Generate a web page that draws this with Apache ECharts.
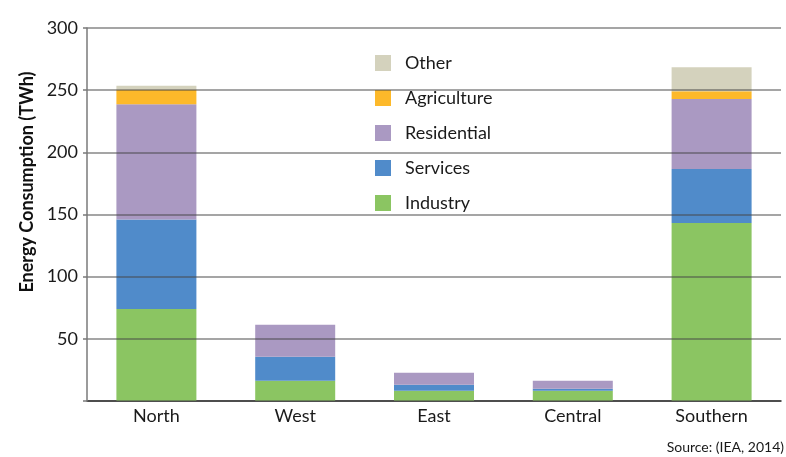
<!DOCTYPE html>
<html>
<head>
<meta charset="utf-8">
<script src="https://cdn.jsdelivr.net/npm/echarts@6/dist/echarts.min.js"></script>
<style>
  html, body { margin: 0; padding: 0; background: #ffffff; }
  #chart { width: 786px; height: 457px; }
</style>
</head>
<body>
<div id="chart"></div>
<script>
// Electricity consumption by region and sector (TWh)
const regions = ['North', 'West', 'East', 'Central', 'Southern'];
const industry    = [74, 16.3, 8.3, 8.3, 143.2];
const services    = [72, 19.3, 4.8, 1.6, 43.3];
const residential = [92.6, 25.7, 9.6, 6.4, 56.3];
const agriculture = [11.8, 0, 0, 0, 6.4];
const other       = [3.2, 0, 0, 0, 19.3];
const yTicks = { min: 0, max: 300, step: 50 };

const sectors = [
  { name: 'Industry', data: industry, color: '#8bc562' },
  { name: 'Services', data: services, color: '#508bca' },
  { name: 'Residential', data: residential, color: '#aa99c2' },
  { name: 'Agriculture', data: agriculture, color: '#fdb92a' },
  { name: 'Other', data: other, color: '#d4d2bd' }
];

const font = 'Lato, "Open Sans", sans-serif';
const chart = echarts.init(document.getElementById('chart'), null, { renderer: 'canvas' });

chart.setOption({
  animation: false,
  textStyle: { fontFamily: font },
  grid: { left: 87, right: 5, top: 28, bottom: 56 },
  legend: {
    orient: 'vertical',
    left: 375,
    top: 54,
    padding: 0,
    itemWidth: 16,
    itemHeight: 16,
    itemGap: 17,
    icon: 'rect',
    data: ['Other', 'Agriculture', 'Residential', 'Services', 'Industry'],
    textStyle: { fontFamily: font, fontSize: 18, color: '#1a1a1a', padding: [0, 0, 0, 9] }
  },
  xAxis: {
    type: 'category',
    data: regions,
    axisLine: { lineStyle: { color: '#222', width: 1.5 } },
    axisTick: { show: false },
    axisLabel: { fontSize: 18, color: '#1a1a1a', margin: 6, fontFamily: font }
  },
  yAxis: {
    type: 'value',
    min: yTicks.min,
    max: yTicks.max,
    interval: yTicks.step,
    z: 5,
    axisLine: { show: true, lineStyle: { color: '#7a7a7a', width: 1.5 } },
    axisTick: { show: true, length: 4, lineStyle: { color: '#7a7a7a', width: 1.5 } },
    axisLabel: {
      fontSize: 18, color: '#1a1a1a', margin: 9, fontFamily: font,
      formatter: v => (v === 0 ? '' : String(v))
    },
    splitLine: { lineStyle: { color: 'rgba(70,70,70,0.65)', width: 1.5 } }
  },
  graphic: [
    {
      type: 'text',
      x: 27, y: 182,
      rotation: Math.PI / 2,
      style: {
        text: 'Energy Consumption (TWh)',
        fontFamily: font, fontSize: 18, fontWeight: 'bold', fill: '#111',
        align: 'center', verticalAlign: 'middle'
      }
    },
    {
      type: 'text',
      right: 2, top: 440,
      style: {
        text: 'Source: (IEA, 2014)',
        fontFamily: font, fontSize: 14, fill: '#1a1a1a'
      }
    }
  ],
  series: sectors.map(s => ({
    name: s.name,
    type: 'bar',
    stack: 'total',
    barWidth: 80,
    z: 1,
    data: s.data,
    itemStyle: { color: s.color }
  }))
});
</script>
</body>
</html>
